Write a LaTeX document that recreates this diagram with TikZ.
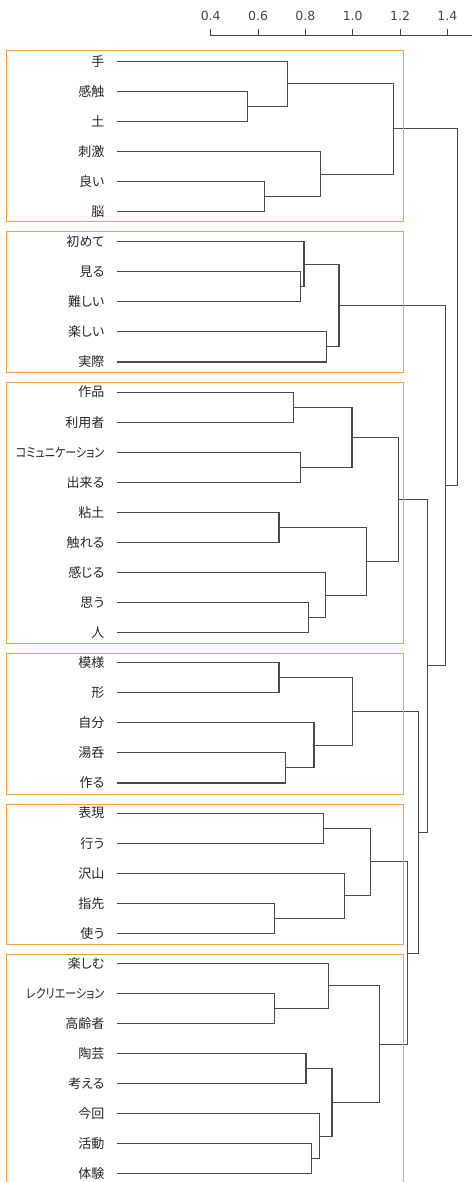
\documentclass[tikz,border=0pt]{standalone}
\usepackage{fontspec}
\newfontfamily\jpfont[RawFeature=+palt]{Noto Sans CJK JP}
\newfontfamily\axfont{DejaVu Sans}
\usetikzlibrary{calc}
\definecolor{linkc}{HTML}{4A4A4A}
\definecolor{boxc}{HTML}{F5A23C}
\definecolor{axc}{HTML}{454545}
\tikzset{
  link/.style={draw=linkc, line width=1.05pt},
  grpbox/.style={draw=boxc, line width=1pt},
  lbl/.style={anchor=east, inner sep=0pt, text height=11.4pt, text depth=1.6pt,
    font=\jpfont\fontsize{13}{15}\selectfont, text=black!85},
  axlbl/.style={inner sep=0pt, font=\axfont\fontsize{12.5}{14}\selectfont, text=axc},
  axline/.style={draw=axc, line width=1pt},
}
\newcommand\narrowlbl[1]{\scalebox{0.85}[1]{#1}}
\newcommand\dmerge[4]{%
  \path let \p1=($(#3)!0.5!(#4)$) in coordinate (#1) at (#2pt,\y1);
  \draw[link] (#3) -| (#1) |- (#4);}
\begin{document}
\begin{tikzpicture}[x=1pt,y=-1pt]
\useasboundingbox (0,0) rectangle (472,1182);
\clip (0,0) rectangle (472,1182);
% axis
\coordinate (ax0) at (210.7,36);
\coordinate (ax1) at (472,36);
\draw[axline] (ax0) -- (ax1);
\foreach \v [count=\k from 0] in {0.4,0.6,0.8,1.0,1.2,1.4}{
  \node[axlbl] (tk\k) at ({210.7+47.33*\k},16) {\v};
  \coordinate (tb\k) at ({210.7+47.33*\k},36);
  \coordinate (tt\k) at ({210.7+47.33*\k},29);
  \draw[axline] (tb\k) -- (tt\k);
}
% leaves
\foreach \w [count=\i from 0] in {手,感触,土,刺激,良い,脳,初めて,見る,難しい,楽しい,実際,作品,利用者,{\narrowlbl{コミュニケーション}},出来る,粘土,触れる,感じる,思う,人,模様,形,自分,湯呑,作る,表現,行う,沢山,指先,使う,楽しむ,{\narrowlbl{レクリエーション}},高齢者,陶芸,考える,今回,活動,体験}{
  \node[lbl] (t\i) at (104.5,{61.3+30.07*\i}) {\w};
  \coordinate (p\i) at (116.7,{61.3+30.07*\i});
}
% box 1
\dmerge{m1}{247.7}{p1}{p2}
\dmerge{m2}{287.3}{p0}{m1}
\dmerge{m3}{264.3}{p4}{p5}
\dmerge{m4}{320.7}{p3}{m3}
\dmerge{m5}{393.3}{m2}{m4}
% box 2
\dmerge{m6}{300.7}{p7}{p8}
\dmerge{m7}{304}{p6}{m6}
\dmerge{m8}{326.7}{p9}{p10}
\dmerge{m9}{339}{m7}{m8}
% box 3
\dmerge{m10}{293.7}{p11}{p12}
\dmerge{m11}{300.7}{p13}{p14}
\dmerge{m12}{352}{m10}{m11}
\dmerge{m13}{279}{p15}{p16}
\dmerge{m14}{308.7}{p18}{p19}
\dmerge{m15}{325.3}{p17}{m14}
\dmerge{m16}{366.7}{m13}{m15}
\dmerge{m17}{398.7}{m12}{m16}
% box 4
\dmerge{m18}{279}{p20}{p21}
\dmerge{m19}{285.7}{p23}{p24}
\dmerge{m20}{314}{p22}{m19}
\dmerge{m21}{352.3}{m18}{m20}
% box 5
\dmerge{m22}{323.7}{p25}{p26}
\dmerge{m23}{274.3}{p28}{p29}
\dmerge{m24}{344.7}{p27}{m23}
\dmerge{m25}{370.7}{m22}{m24}
% box 6
\dmerge{m26}{274.3}{p31}{p32}
\dmerge{m27}{328.7}{p30}{m26}
\dmerge{m28}{306}{p33}{p34}
\dmerge{m29}{311.3}{p36}{p37}
\dmerge{m30}{319.7}{p35}{m29}
\dmerge{m31}{332}{m28}{m30}
\dmerge{m32}{379.3}{m27}{m31}
% upper levels
\dmerge{m33}{407.3}{m25}{m32}
\dmerge{m34}{418.7}{m21}{m33}
\dmerge{m35}{427.3}{m17}{m34}
\dmerge{m36}{445.3}{m9}{m35}
\dmerge{m37}{457.3}{m5}{m36}
% group boxes (drawn over the links)
\draw[grpbox] (6,51) rectangle (403.3,221.7);
\draw[grpbox] (6,231.7) rectangle (403.3,372.3);
\draw[grpbox] (6,382.3) rectangle (403.3,643.3);
\draw[grpbox] (6,653.3) rectangle (403.3,794);
\draw[grpbox] (6,804) rectangle (403.3,944);
\draw[grpbox] (6,954.3) rectangle (403.3,1190);
\end{tikzpicture}
\end{document}
